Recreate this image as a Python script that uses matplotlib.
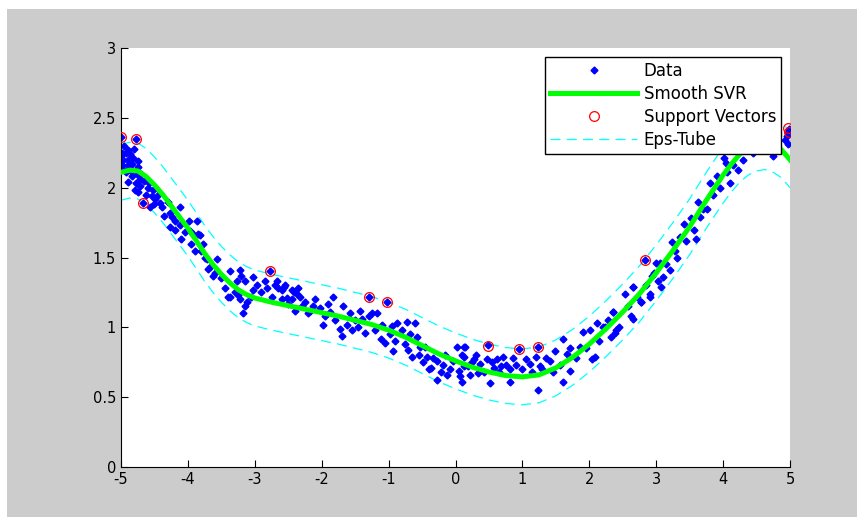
import matplotlib
matplotlib.use('Agg')
import matplotlib.pyplot as plt
from matplotlib.patches import Rectangle

# smooth SVR curve
svr_x = [-5.0, -4.875, -4.75, -4.625, -4.5, -4.375, -4.25, -4.125, -4.0, -3.875,
         -3.75, -3.625, -3.5, -3.375, -3.25, -3.125, -3.0, -2.75, -2.5, -2.25,
         -2.0, -1.75, -1.5, -1.25, -1.0, -0.75, -0.5, -0.25, 0.0, 0.25,
         0.5, 0.75, 1.0, 1.25, 1.5, 1.75, 2.0, 2.25, 2.5, 2.75,
         3.0, 3.25, 3.5, 3.75, 4.0, 4.125, 4.25, 4.375, 4.5, 4.625,
         4.75, 4.875, 5.0]
svr_y = [2.11, 2.125, 2.12, 2.08, 2.02, 1.95, 1.87, 1.79, 1.71, 1.62,
         1.53, 1.45, 1.38, 1.32, 1.27, 1.235, 1.21, 1.18, 1.155, 1.13,
         1.105, 1.08, 1.05, 1.02, 0.98, 0.93, 0.87, 0.81, 0.76, 0.715,
         0.68, 0.655, 0.645, 0.66, 0.71, 0.785, 0.88, 0.99, 1.11, 1.24,
         1.39, 1.55, 1.72, 1.91, 2.09, 2.17, 2.24, 2.29, 2.32, 2.33,
         2.31, 2.27, 2.20]
eps = 0.2

# data points
data_x = [-5.0, -4.78, -4.89, -5.0, -4.97, -4.82, -4.74, -4.99, -4.89, -4.74,
          -4.92, -4.84, -4.89, -4.77, -4.72, -4.79, -4.74, -4.54, -4.49, -4.67,
          -4.57, -4.42, -4.39, -4.27, -4.12, -4.24, -4.19, -3.99, -3.87, -4.27,
          -4.12, -3.85, -3.82, -4.10, -3.97, -4.95, -4.93, -4.86, -4.80, -4.96,
          -4.85, -4.70, -4.65, -4.60, -4.62, -4.52, -4.45,
          -3.92, -3.77, -3.80, -3.72, -3.57, -3.67, -3.60, -3.62, -3.37, -3.22,
          -3.20, -3.27, -3.15, -3.02, -2.97, -2.77, -2.85, -2.82, -2.67, -2.65,
          -2.55, -2.45, -2.37, -3.37, -3.25, -3.22, -3.12, -3.15, -3.17, -3.02,
          -2.45, -2.60,
          -2.57, -2.42, -2.52, -2.32, -2.25, -2.40, -2.17, -2.13, -2.03, -1.98,
          -1.83, -1.88, -1.73, -1.70, -1.55, -1.68, -1.58, -1.43, -1.50, -1.35,
          -1.30, -1.03, -1.18, -1.30, -1.10, -0.95, -0.88, -0.73, -0.61, -1.05,
          -0.71, -0.58, -0.53, -0.65, -0.48, -0.43, -0.36, -0.28, -0.18, -0.13,
          -0.28, -0.03, 0.02, 0.14, 0.09, 0.09, 0.24, 0.34, -0.93,
          0.12, 0.49, 0.95, 1.24, 0.12, 0.27, 0.37, 0.47, 0.13, 0.07,
          0.57, 0.71, 0.76, 0.62, 0.86, 1.06, 1.21, 1.36, 1.26, 1.49,
          1.66, 1.56, 1.71, 1.61, 1.24, 0.52, 0.82, 1.71, 1.86, 1.91,
          2.01, 2.09, 2.04, 1.61, 2.21, 2.11, 2.33, 2.40, 2.35, 2.65,
          2.53, 2.65, 2.78, 2.91, 2.93, 3.00,
          2.83, 2.36, 2.24, 2.38, 2.63, 2.66, 2.78, 2.91, 2.96, 3.06,
          3.03, 3.07, 3.21, 3.23, 3.31, 3.36, 3.41, 3.56, 3.59, 3.63,
          3.66, 3.76, 3.81, 3.91, 4.11, 4.06, 4.01, 4.15, 4.23, 4.75,
          4.97, 4.97, 4.92, 4.95, 4.98, 4.30, 4.45,
          -4.98, -4.90, -4.83, -4.76, -4.71, -4.58, -4.50, -4.35, -4.30, -4.20,
          -4.05, -3.95, -3.90, -3.75, -3.70, -3.50, -3.45, -3.40, -3.30, -3.05,
          -2.90, -2.75, -2.70, -2.60, -2.50, -2.35, -2.30, -2.20, -2.10, -1.95,
          -1.90, -1.80, -1.62, -1.45, -1.40, -1.25, -1.20, -1.12, -0.98, -0.90,
          -0.80, -0.75, -0.68, -0.55, -0.45, -0.40, -0.33, -0.22, -0.15, -0.08,
          0.05, 0.18, 0.22, 0.30, 0.42, 0.55, 0.65, 0.68, 0.82, 0.90,
          1.00, 1.12, 1.15, 1.30, 1.42, 1.45, 1.80, 1.95, 2.15, 2.28,
          2.45, 2.58, 2.72, 2.85, 3.10, 3.15, 3.28, 3.45, 3.52, 3.70,
          3.85, 3.95, 4.05]
data_y = [2.36, 2.35, 2.27, 2.23, 2.20, 2.21, 2.19, 2.16, 2.16, 2.15,
          2.11, 2.08, 2.04, 2.03, 2.01, 1.98, 1.97, 1.94, 1.92, 1.89,
          1.86, 1.89, 1.86, 1.82, 1.86, 1.79, 1.76, 1.76, 1.76, 1.72,
          1.73, 1.67, 1.66, 1.63, 1.69, 2.30, 2.25, 2.24, 2.28, 2.13,
          2.12, 2.10, 2.05, 2.00, 1.95, 1.98, 1.95,
          1.67, 1.60, 1.55, 1.49, 1.49, 1.43, 1.39, 1.37, 1.40, 1.41,
          1.37, 1.33, 1.33, 1.36, 1.30, 1.40, 1.33, 1.28, 1.33, 1.28,
          1.30, 1.27, 1.24, 1.22, 1.23, 1.20, 1.18, 1.15, 1.10, 1.27,
          1.20, 1.27,
          1.29, 1.255, 1.21, 1.22, 1.18, 1.12, 1.12, 1.15, 1.14, 1.02,
          1.22, 1.11, 0.99, 0.94, 0.98, 1.15, 1.10, 1.12, 1.05, 0.96,
          1.22, 1.18, 1.10, 1.08, 1.02, 1.01, 1.03, 1.04, 1.03, 0.89,
          0.84, 0.93, 0.86, 0.79, 0.75, 0.79, 0.71, 0.76, 0.73, 0.66,
          0.62, 0.76, 0.86, 0.86, 0.80, 0.61, 0.75, 0.67, 0.83,
          0.86, 0.87, 0.845, 0.857, 0.79, 0.77, 0.74, 0.77, 0.72, 0.65,
          0.71, 0.79, 0.73, 0.77, 0.78, 0.77, 0.79, 0.78, 0.72, 0.83,
          0.81, 0.73, 0.69, 0.61, 0.55, 0.60, 0.61, 0.85, 0.86, 0.97,
          0.98, 0.79, 0.77, 0.92, 1.00, 1.03, 0.93, 0.98, 1.11, 1.06,
          1.24, 1.29, 1.18, 1.24, 1.37, 1.46,
          1.48, 1.11, 1.00, 0.96, 1.08, 1.29, 1.18, 1.22, 1.39, 1.46,
          1.33, 1.29, 1.41, 1.61, 1.50, 1.65, 1.74, 1.70, 1.63, 1.90,
          1.79, 1.85, 2.03, 2.08, 2.03, 2.11, 2.21, 2.16, 2.13, 2.23,
          2.40, 2.31, 2.34, 2.37, 2.42, 2.20, 2.25,
          2.25, 2.20, 2.17, 2.10, 2.06, 2.03, 1.88, 1.80, 1.90, 1.70,
          1.68, 1.60, 1.55, 1.50, 1.42, 1.35, 1.28, 1.22, 1.25, 1.22,
          1.25, 1.22, 1.30, 1.20, 1.17, 1.28, 1.15, 1.10, 1.20, 1.08,
          1.17, 1.05, 1.02, 1.00, 1.06, 1.10, 0.98, 0.92, 0.95, 0.90,
          0.98, 0.88, 0.95, 0.80, 0.86, 0.70, 0.78, 0.68, 0.80, 0.70,
          0.69, 0.72, 0.66, 0.80, 0.68, 0.75, 0.68, 0.72, 0.70, 0.73,
          0.70, 0.74, 0.68, 0.70, 0.76, 0.68, 0.78, 0.85, 0.90, 1.05,
          1.00, 1.15, 1.22, 1.30, 1.36, 1.45, 1.55, 1.62, 1.78, 1.85,
          1.95, 2.00, 2.18]

# support vectors
sv_x = [-5.0, -4.78, -4.67, -2.77, -1.30, -1.03, 0.49, 0.95, 1.24, 2.83, 4.97, 4.98]
sv_y = [2.36, 2.35, 1.89, 1.40, 1.22, 1.18, 0.867, 0.845, 0.857, 1.48, 2.43, 2.40]

xticks = [-5, -4, -3, -2, -1, 0, 1, 2, 3, 4, 5]
xtick_labels = ['-5', '-4', '-3', '-2', '-1', '0', '1', '2', '3', '4', '5']
yticks = [0, 0.5, 1, 1.5, 2, 2.5, 3]
ytick_labels = ['0', '0.5', '1', '1.5', '2', '2.5', '3']

fig = plt.figure(figsize=(8.57, 5.17), dpi=100, facecolor='#cccccc')
# white strips at top and left of the screenshot
fig.patches.append(Rectangle((0, 0), 7/857, 1, transform=fig.transFigure,
                             facecolor='white', edgecolor='none', zorder=-1))
fig.patches.append(Rectangle((0, 1 - 9/517), 1, 9/517, transform=fig.transFigure,
                             facecolor='white', edgecolor='none', zorder=-1))

ax = fig.add_axes([121/857, 50/517, 669/857, 419/517])
ax.set_facecolor('white')

ax.plot(data_x, data_y, linestyle='none', marker='D', markersize=3.5,
        color='#0000ff', label='Data', zorder=2)
ax.plot(svr_x, svr_y, color='#00ff00', lw=3.6, label='Smooth SVR', zorder=3)
ax.plot(sv_x, sv_y, linestyle='none', marker='o', markersize=7,
        markerfacecolor='none', markeredgecolor='#ff0000', markeredgewidth=0.9,
        label='Support Vectors', zorder=4)
ax.plot(svr_x, [v + eps for v in svr_y], color='#00ffff', lw=0.9,
        dashes=(8, 5), label='Eps-Tube', zorder=1)
ax.plot(svr_x, [v - eps for v in svr_y], color='#00ffff', lw=0.9,
        dashes=(8, 5), zorder=1)

ax.set_xlim(-5, 5)
ax.set_ylim(0, 3)
ax.set_xticks(xticks)
ax.set_xticklabels(xtick_labels)
ax.set_yticks(yticks)
ax.set_yticklabels(ytick_labels)
ax.tick_params(direction='in', length=5, width=0.8, labelsize=10.5, colors='black')
ax.spines['top'].set_visible(False)
ax.spines['right'].set_visible(False)

leg = ax.legend(loc='upper right', bbox_to_anchor=(0.987, 0.979), borderaxespad=0,
                fancybox=False, edgecolor='black', framealpha=1, fontsize=12,
                numpoints=1, handlelength=5.2, handletextpad=0.4,
                labelspacing=0.3, borderpad=0.3)
leg.get_frame().set_linewidth(1.0)

fig.savefig('out.png', dpi=100, facecolor=fig.get_facecolor())
